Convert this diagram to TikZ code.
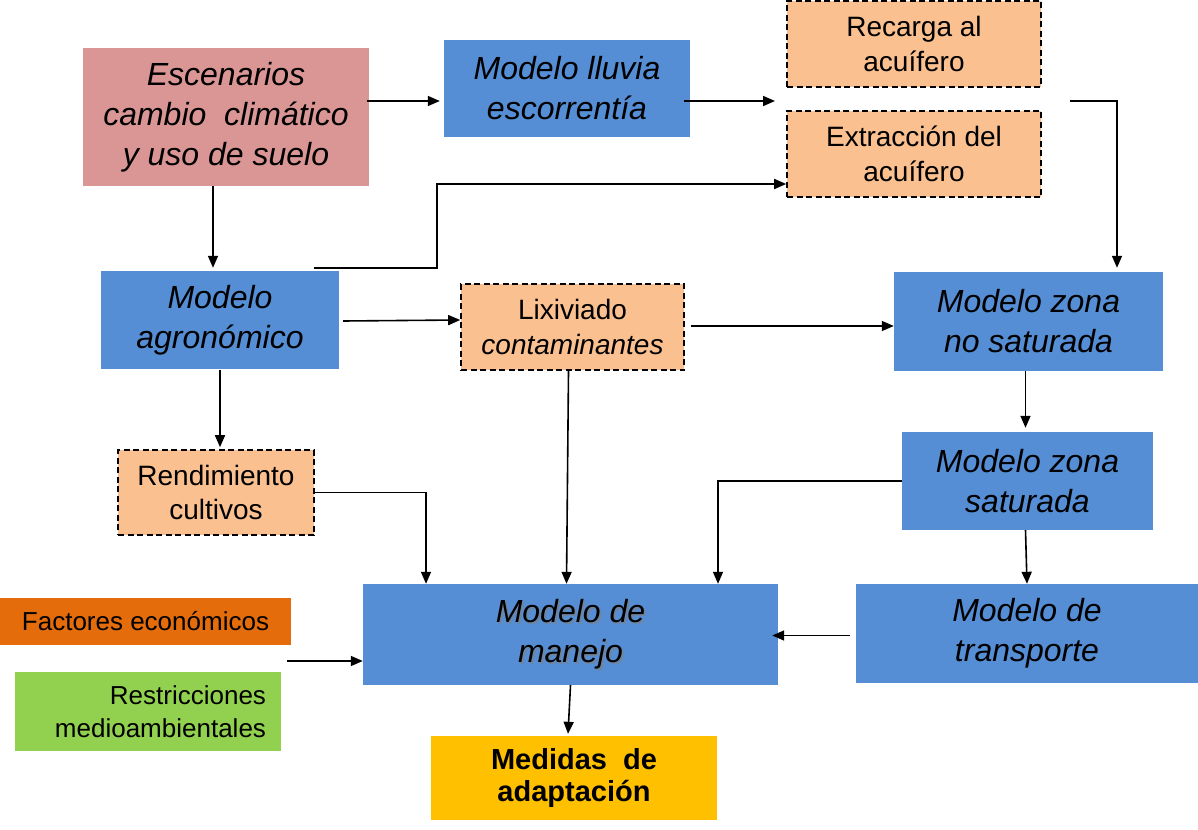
\documentclass[tikz,border=0pt]{standalone}
\usepackage{fontspec}
\setmainfont{Liberation Sans}
\usetikzlibrary{arrows.meta,calc}
\pgfdeclarelayer{bgwhite}
\pgfdeclarelayer{bg}
\pgfsetlayers{bgwhite,bg,main}
\definecolor{cpink}{HTML}{D99694}
\definecolor{cblue}{HTML}{558ED5}
\definecolor{cpeach}{HTML}{FAC090}
\definecolor{corange}{HTML}{E46C0A}
\definecolor{cgreen}{HTML}{92D050}
\definecolor{cgold}{HTML}{FFC000}
\tikzset{
  boxbase/.style={inner sep=0pt, align=center, text=black},
  itext/.style={font=\fontsize{32}{40}\selectfont\itshape},
  ntext/.style={font=\fontsize{28}{34.5}\selectfont},
  bluebox/.style={boxbase, fill=cblue, itext},
  pinkbox/.style={boxbase, fill=cpink, itext},
  peachbox/.style={boxbase, fill=cpeach, draw=black, line width=1.6pt, dash pattern=on 6pt off 3.5pt, ntext},
  arr/.style={line width=1.6pt, -{Triangle[length=12pt,width=10pt]}},
  ln/.style={line width=1.6pt}
}
\begin{document}
\begin{tikzpicture}[x=1pt,y=-1pt]
\begin{pgfonlayer}{bgwhite}
\fill[white] (0,0) rectangle (1198,829);
\end{pgfonlayer}
\useasboundingbox (0,0) rectangle (1198,829);

% boxes
\node[pinkbox, minimum width=286pt, minimum height=138pt] (esc) at (226,117) {Escenarios\\cambio\ \ climático\\y uso de suelo};
\node[bluebox, minimum width=246pt, minimum height=97pt] (lluvia) at (567,88.5) {Modelo lluvia\\escorrentía};
\node[peachbox, minimum width=254pt, minimum height=86pt] (recarga) at (914,44) {Recarga al\\acuífero};
\node[peachbox, minimum width=254pt, minimum height=86pt] (extr) at (914,154) {Extracción del\\acuífero};
\node[bluebox, minimum width=238pt, minimum height=98pt] (agro) at (220,320) {Modelo\\agronómico};
\node[peachbox, minimum width=223pt, minimum height=86pt] (lix) at (572.5,327) {Lixiviado\\\textit{contaminantes}};
\node[bluebox, minimum width=269pt, minimum height=99pt] (zns) at (1028.5,321.5) {Modelo zona\\no saturada};
\node[bluebox, minimum width=251pt, minimum height=98pt] (zs) at (1027.5,481) {Modelo zona\\saturada};
\node[peachbox, minimum width=196pt, minimum height=85pt] (rend) at (216,492.5) {Rendimiento\\cultivos};
\node[boxbase, itext, minimum width=415pt, minimum height=101pt] (manejo) at (570.5,634.5) {Modelo de\\manejo};
\begin{pgfonlayer}{bg}
\fill[cblue] (manejo.south west) rectangle (manejo.north east);
\node[boxbase, itext, text=black!50, opacity=0.6] (manejoshadow) at ($(manejo)+(2,2)$) {Modelo de\\manejo};
\end{pgfonlayer}
\node[bluebox, minimum width=342pt, minimum height=99pt] (transp) at (1027,633.5) {Modelo de\\transporte};
\node[boxbase, fill=corange, minimum width=291pt, minimum height=47pt, font=\fontsize{26}{32}\selectfont] (fact) at (145.5,621.5) {Factores económicos};
\node[boxbase, fill=cgreen, minimum width=266pt, minimum height=79pt, font=\fontsize{26}{33}\selectfont, text width=236pt, align=right] (restr) at (148,711.5) {Restricciones\\medioambientales};
\node[boxbase, fill=cgold, minimum width=286pt, minimum height=84pt, font=\fontsize{29}{32.5}\selectfont\bfseries] (medidas) at (574,778) {Medidas\ \ de\\adaptación};

% free ends
\coordinate (c2) at (775,101);
\coordinate (c3) at (1070,101);
\coordinate (c15) at (287,661);

% connectors
\draw[arr] ($(esc.east)+(-2,-16)$) -- ($(lluvia.west)+(-4,12.5)$);
\draw[arr] ($(lluvia.east)+(-6,12.5)$) -- (c2);
\draw[arr] (c3) -| ($(zns.north)+(88.5,-4)$);
\draw[arr] ($(esc.south)+(-13,0)$) -- ($(agro.north)+(-7,-3)$);
\draw[arr] ($(agro.north east)+(-25,-3)$) -- ++(123,0) |- ($(extr.west)+(0,30)$);
\draw[arr] ($(agro.east)+(4,1)$) -- ($(lix.west)+(0,-7)$);
\draw[arr] ($(lix.east)+(6,-1)$) -- ($(zns.west)+(0,4.5)$);
\draw[arr] ($(agro.south)+(0,1)$) -- ($(rend.north)+(4,-2)$);
\draw[arr] (rend.east) -| ($(manejo.north)+(-144.5,0)$);
\draw[arr] ($(lix.south)+(-4,0)$) -- ($(manejo.north)+(-4,0)$);
\draw[arr] ($(zns.south)+(-3,0)$) -- ($(zs.north)+(-2,-4)$);
\draw[arr] (zs.west) -| ($(manejo.north)+(147.5,0)$);
\draw[arr] ($(zs.south)+(-2,0)$) -- (transp.north);
\draw[arr] ($(transp.west)+(-6,2)$) -- ($(manejo.east)+(-6,1)$);
\draw[arr] (c15) -- ($(manejo.west)+(0,26.5)$);
\draw[arr] (manejo.south) -- ($(medidas.north)+(-6,-2)$);
\end{tikzpicture}
\end{document}
